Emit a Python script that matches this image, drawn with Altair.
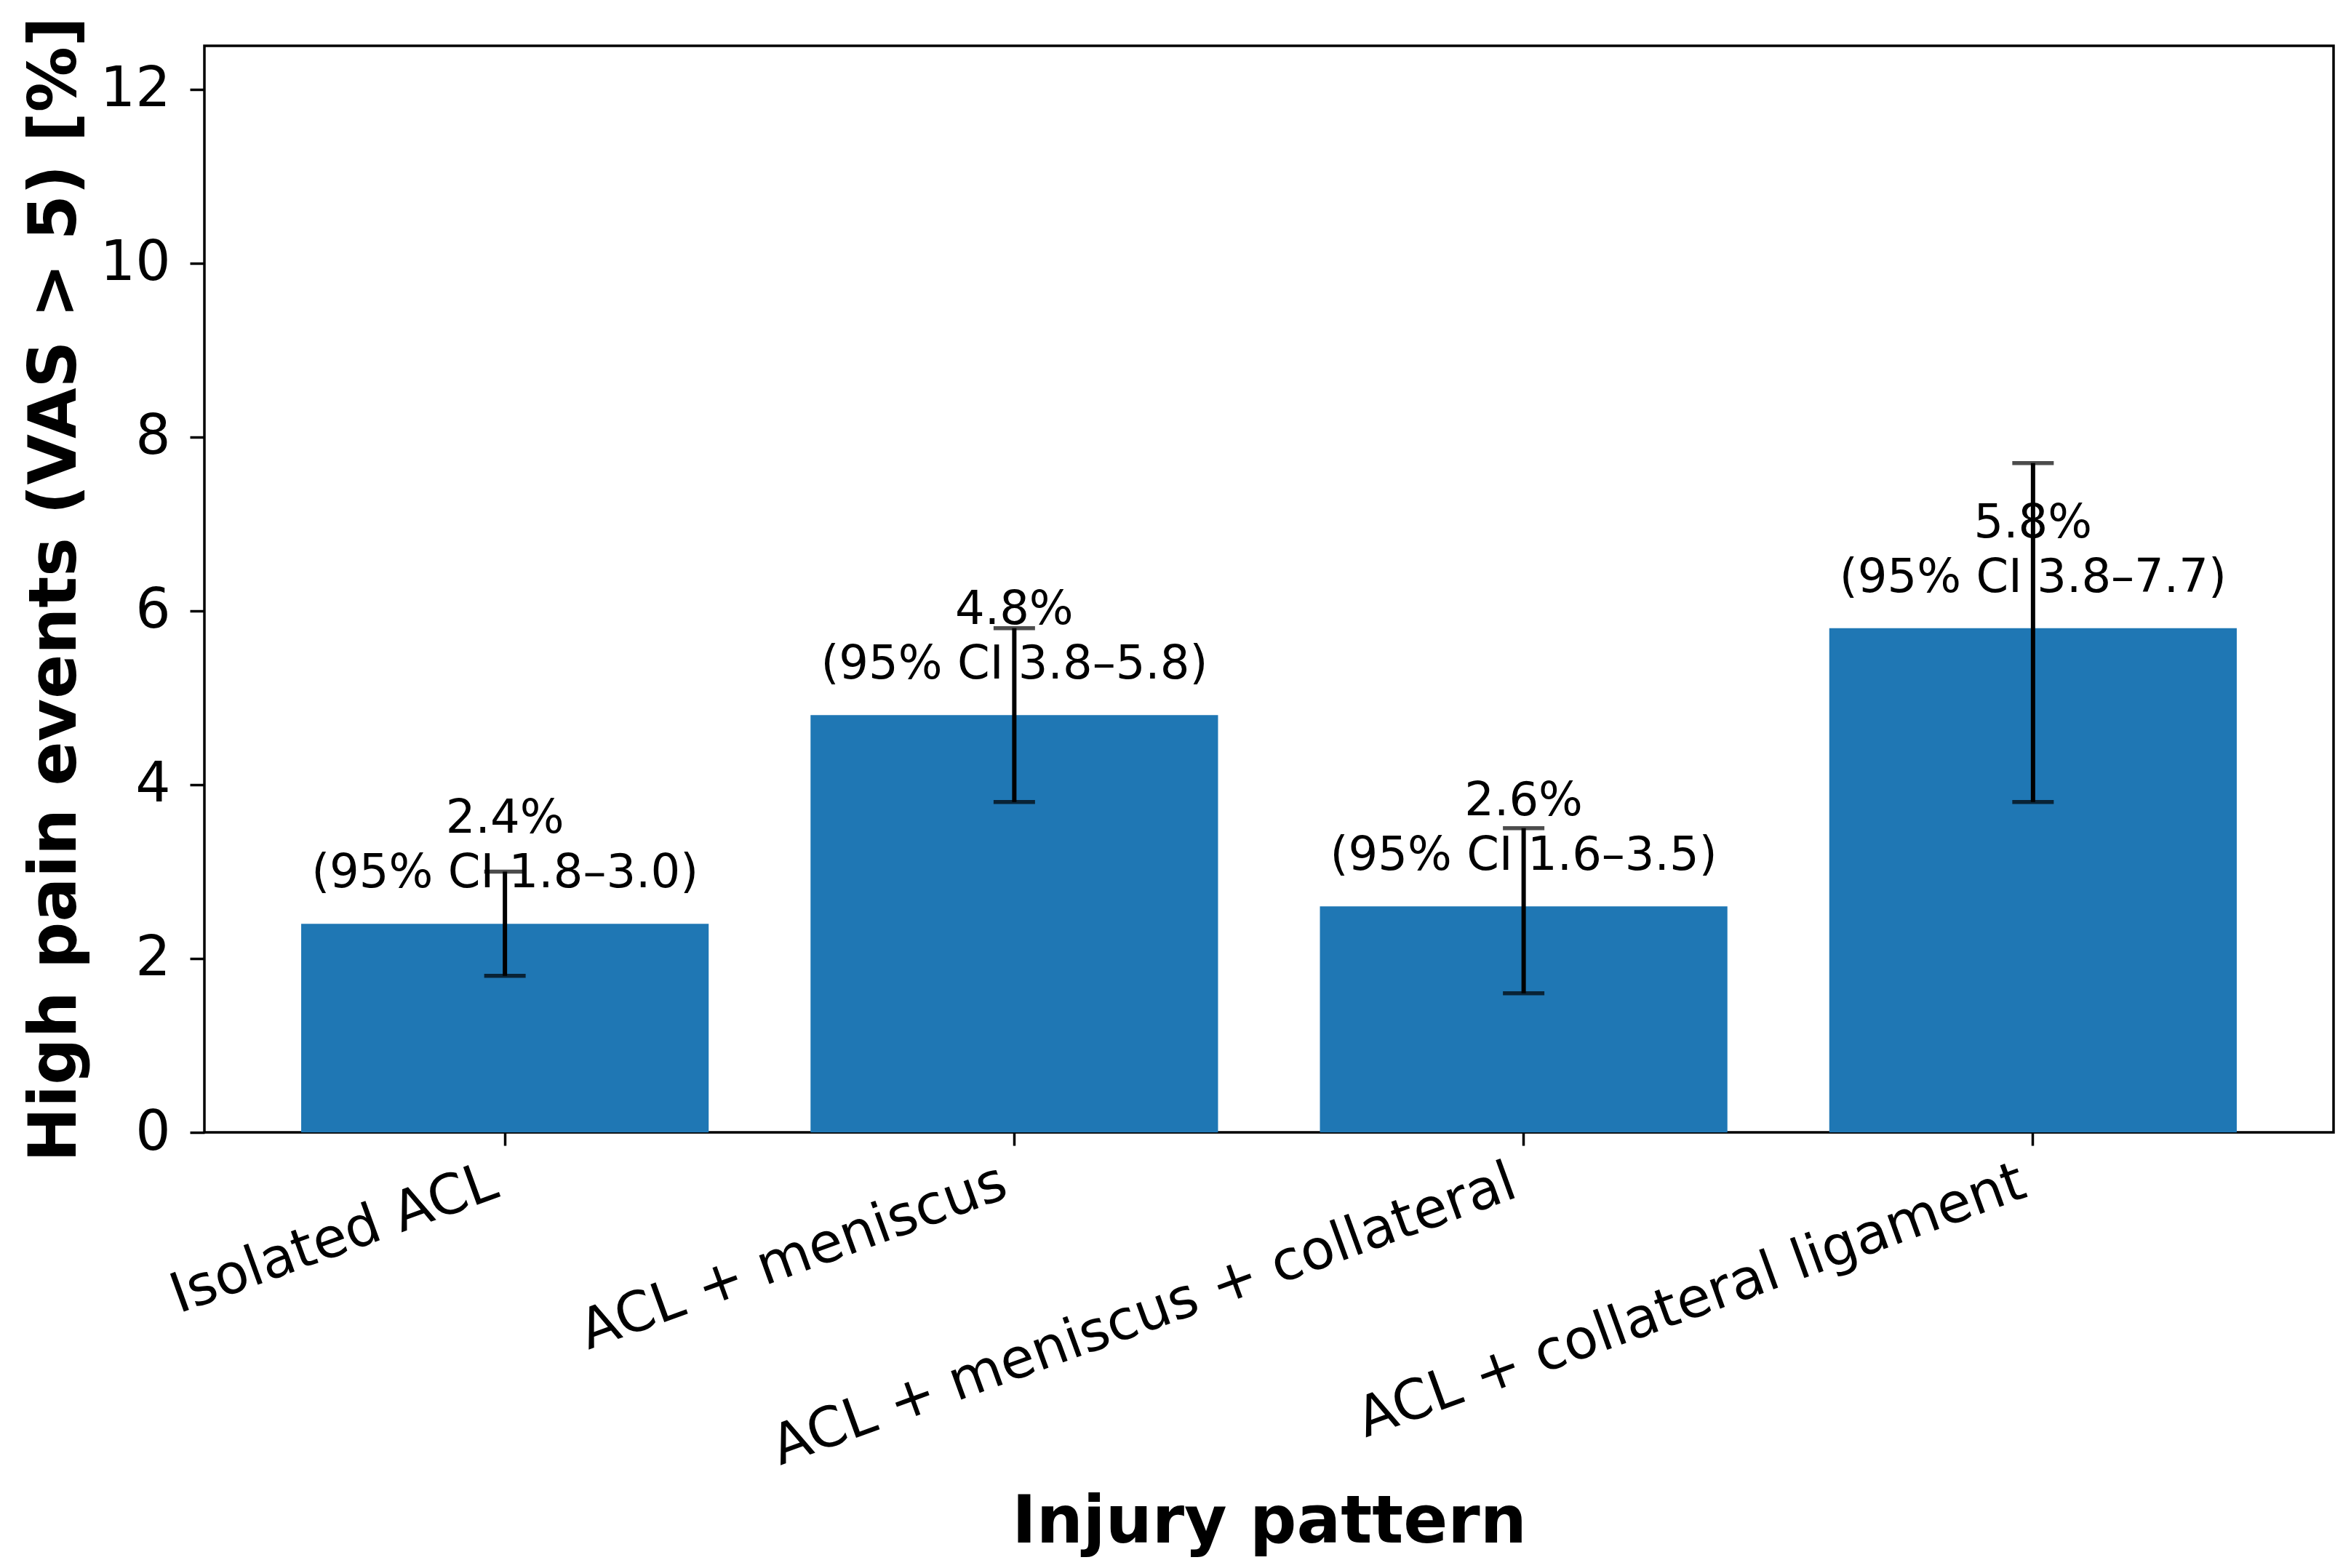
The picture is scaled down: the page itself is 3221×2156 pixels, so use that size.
import altair as alt
import pandas as pd

categories = ["Isolated ACL", "ACL + meniscus", "ACL + meniscus + collateral", "ACL + collateral ligament"]
rates = [2.4, 4.8, 2.6, 5.8]
ci_low = [1.8, 3.8, 1.6, 3.8]
ci_high = [3.0, 5.8, 3.5, 7.7]
y_ticks = [0, 2, 4, 6, 8, 10, 12]

df = pd.DataFrame({
    "pattern": categories,
    "rate": rates,
    "lo": ci_low,
    "hi": ci_high,
})
df["line1"] = [f"{r:.1f}%" for r in rates]
df["line2"] = [f"(95% CI {l:.1f}\u2013{h:.1f})" for l, h in zip(ci_low, ci_high)]

FONT = "DejaVu Sans"
BAR_COLOR = "#1f77b4"
Y_TITLE = "High pain events (VAS > 5) [%]"

x_enc = alt.X(
    "pattern:N",
    sort=categories,
    scale=alt.Scale(paddingInner=0.2, paddingOuter=0.19),
    axis=alt.Axis(
        title="Injury pattern",
        labelAngle=340,
        labelAlign="right",
        labelBaseline="top",
        labelOffset=-26,
        labelPadding=13,
        tickSize=18,
        titleY=563,
        titleBaseline="alphabetic",
        labelLimit=2000,
    ),
)

y_scale = alt.Scale(domain=[0, 12.5], nice=False, zero=True)
y_axis = alt.Axis(
    title=Y_TITLE,
    values=y_ticks,
    tickSize=20,
    labelPadding=27,
    titleX=-178,
    titleBaseline="alphabetic",
)


def y_of(field):
    return alt.Y(field, scale=y_scale, axis=y_axis, title=Y_TITLE)


base = alt.Chart(df)

bars = base.mark_bar(color=BAR_COLOR).encode(x=x_enc, y=y_of("rate:Q"))

err = base.mark_rule(color="black", strokeWidth=6).encode(
    x=x_enc,
    y=y_of("lo:Q"),
    y2="hi:Q",
)

cap_lo = base.mark_tick(color="black", size=57, thickness=5.5).encode(x=x_enc, y=y_of("lo:Q"))
cap_hi = base.mark_tick(color="black", size=57, thickness=5.5).encode(x=x_enc, y=y_of("hi:Q"))

txt1 = base.mark_text(font=FONT, fontSize=64, color="black", baseline="alphabetic", dy=-125).encode(
    x=x_enc, y=y_of("rate:Q"), text="line1:N"
)
txt2 = base.mark_text(font=FONT, fontSize=64, color="black", baseline="alphabetic", dy=-50).encode(
    x=x_enc, y=y_of("rate:Q"), text="line2:N"
)

chart = (
    alt.layer(bars, txt1, txt2, err, cap_lo, cap_hi)
    .properties(
        width=2927,
        height=1494,
        padding={"left": 273, "top": 55, "right": 5, "bottom": 585},
        autosize=alt.AutoSizeParams(type="none"),
        background="white",
    )
    .configure_view(stroke="black", strokeWidth=3.5)
    .configure_axis(
        domain=False,
        grid=False,
        tickColor="black",
        tickWidth=3.5,
        labelColor="black",
        labelFont=FONT,
        labelFontSize=76,
        titleColor="black",
        titleFont=FONT,
        titleFontSize=90,
        titleFontWeight="bold",
    )
)

chart.save("out.html", embed_options={"renderer": "svg", "actions": False})
